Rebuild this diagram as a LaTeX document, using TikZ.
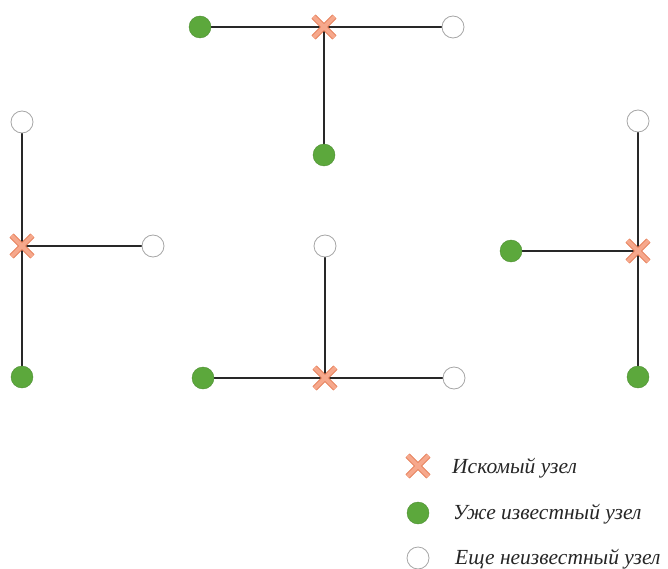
\documentclass[tikz,border=0pt]{standalone}
\usepackage{fontspec}
\setmainfont{Liberation Serif}
\usetikzlibrary{shapes.misc,backgrounds}
\definecolor{knownfill}{RGB}{92,168,60}
\definecolor{crossfill}{RGB}{246,168,140}
\definecolor{crossedge}{RGB}{228,120,80}
\definecolor{linkcol}{RGB}{40,40,40}
\tikzset{
  known/.style={circle,fill=knownfill,draw=knownfill!85!black,line width=0.4pt,minimum size=22pt,inner sep=0pt},
  unknown/.style={circle,fill=white,draw=gray!70,line width=0.8pt,minimum size=22pt,inner sep=0pt},
  target/.style={cross out,draw=crossedge,double=crossfill,double distance=4.2pt,line width=0.8pt,minimum size=20pt,inner sep=0pt},
  link/.style={draw=linkcol,line width=1.8pt},
  legendtext/.style={anchor=west,font=\itshape\fontsize{21.5}{24}\selectfont,inner sep=0pt,text=black!85}
}
\begin{document}
\begin{tikzpicture}[x=1pt,y=-1pt]
  \useasboundingbox (0,0) rectangle (668,569);
  % upper group
  \node[known]   (a1) at (200,27) {};
  \node[target]  (a0) at (324,27) {};
  \node[unknown] (a2) at (453,27) {};
  \node[known]   (a3) at (324,155) {};
  % left group
  \node[unknown] (b1) at (22,122) {};
  \node[target]  (b0) at (22,246) {};
  \node[unknown] (b2) at (153,246) {};
  \node[known]   (b3) at (22,377) {};
  % middle group
  \node[unknown] (c1) at (325,246) {};
  \node[target]  (c0) at (325,378) {};
  \node[known]   (c2) at (203,378) {};
  \node[unknown] (c3) at (454,378) {};
  % right group
  \node[known]   (d1) at (511,251) {};
  \node[target]  (d0) at (638,251) {};
  \node[unknown] (d2) at (638,121) {};
  \node[known]   (d3) at (638,377) {};
  \begin{scope}[on background layer]
    \foreach \g in {a,b,c,d}{
      \foreach \i in {1,2,3}{
        \path[link] (\g0.center) -- (\g\i);
      }
    }
  \end{scope}
  % legend
  \node[target]  (l1) at (418,466) {};
  \node[known]   (l2) at (418,513) {};
  \node[unknown] (l3) at (418,558) {};
  \node[legendtext] (t1) at (452,468) {Искомый узел};
  \node[legendtext] (t2) at (453,514) {Уже известный узел};
  \node[legendtext] (t3) at (455,559) {Еще неизвестный узел};
\end{tikzpicture}
\end{document}
